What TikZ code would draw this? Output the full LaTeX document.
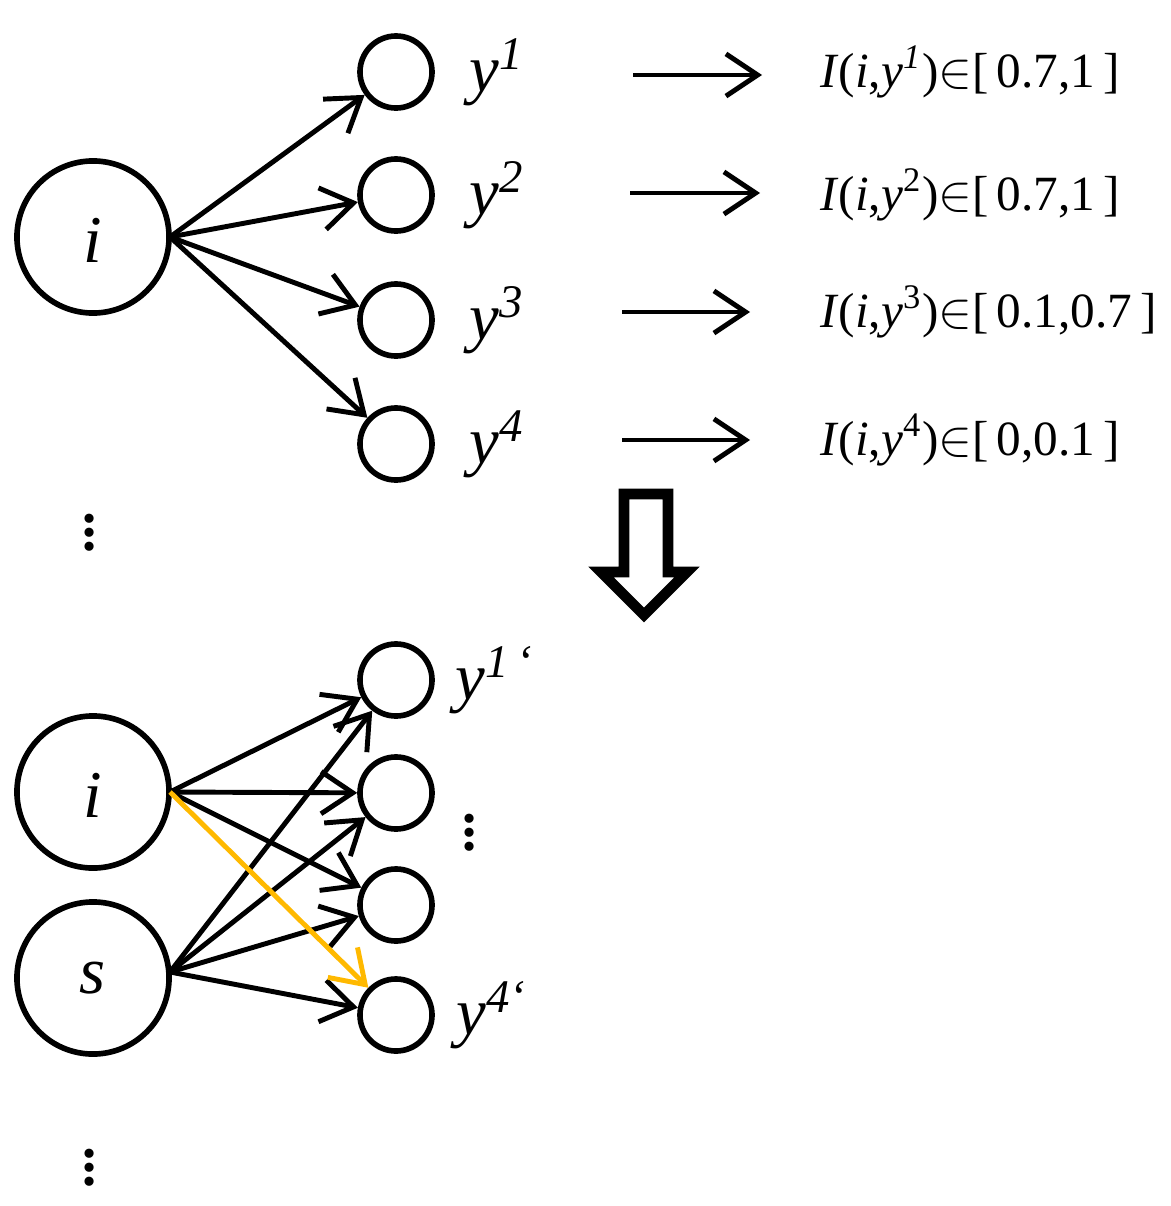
\documentclass[tikz,border=0pt]{standalone}
\usepackage{fontspec}
\setmainfont{Liberation Serif}
\usetikzlibrary{arrows.meta}
\begin{document}
\begin{tikzpicture}[x=0.01cm,y=-0.01cm,
  big/.style={circle,draw,line width=1.6pt,minimum size=1.52cm,inner sep=0pt},
  small/.style={circle,draw,line width=1.6pt,minimum size=0.72cm,inner sep=0pt},
  arr/.style={->,line width=1.4pt,>={Straight Barb[length=9pt,width=12pt]}},
  lab/.style={font=\fontsize{19}{22}\selectfont\itshape},
  itxt/.style={font=\fontsize{14}{16}\selectfont,anchor=west},
  vdots/.style={font=\fontsize{16}{16}\selectfont\bfseries}]
\useasboundingbox (0,0) rectangle (1171,1206);
\node[big] (i) at (93,237) {};
\node[lab] at (93,240) {i};
\foreach \n/\y/\s in {1/72/\textit{1},2/195/2,3/320/3,4/444/4}{
  \node[small] (t\n) at (396,\y) {};
  \node[lab] at (497,\y) {y\textsuperscript{\s}};
  \draw[arr] (170,237) -- (t\n);
}
\coordinate (a1) at (633,75); \coordinate (b1) at (762,75);
\coordinate (a2) at (630,193); \coordinate (b2) at (760,193);
\coordinate (a3) at (622,312); \coordinate (b3) at (750,312);
\coordinate (a4) at (622,440); \coordinate (b4) at (750,440);
\foreach \n in {1,...,4}{\draw[arr] (a\n) -- (b\n);}
\node[itxt] at (808,72) {\textit{I}(\textit{i},\textit{y}\textsuperscript{\textit{1}})$\in$[\,0.7,1\,]};
\node[itxt] at (808,195) {\textit{I}(\textit{i},\textit{y}\textsuperscript{2})$\in$[\,0.7,1\,]};
\node[itxt] at (808,312) {\textit{I}(\textit{i},\textit{y}\textsuperscript{3})$\in$[\,0.1,0.7\,]};
\node[itxt] at (808,440) {\textit{I}(\textit{i},\textit{y}\textsuperscript{4})$\in$[\,0,0.1\,]};
\node[vdots] at (90,522) {$\vdots$};
\draw[line width=3pt] (624,494) -- (668,494) -- (668,572) -- (687,572) -- (644,615) -- (601,572) -- (624,572) -- cycle;
\node[big] (i2) at (93,792) {};
\node[lab] at (93,795) {i};
\node[big] (s) at (93,978) {};
\node[lab] at (93,978) {s};
\foreach \n/\y in {1/680,2/793,3/905,4/1015}{\node[small] (c\n) at (396,\y) {};}
\node[lab] at (495,680) {y\textsuperscript{1\,`}};
\node[lab] at (492,1015) {y\textsuperscript{4`}};
\node[vdots] at (470,822) {$\vdots$};
\node[vdots] at (90,1157) {$\vdots$};
\coordinate (ip) at (170,792); \coordinate (sp) at (170,972);
\foreach \n in {1,2,3}{\draw[arr] (ip) -- (c\n);}
\foreach \n in {1,2,3,4}{\draw[arr] (sp) -- (c\n);}
\draw[arr,color={rgb,255:red,255;green,185;blue,0}] (ip) -- (c4);
\end{tikzpicture}
\end{document}
